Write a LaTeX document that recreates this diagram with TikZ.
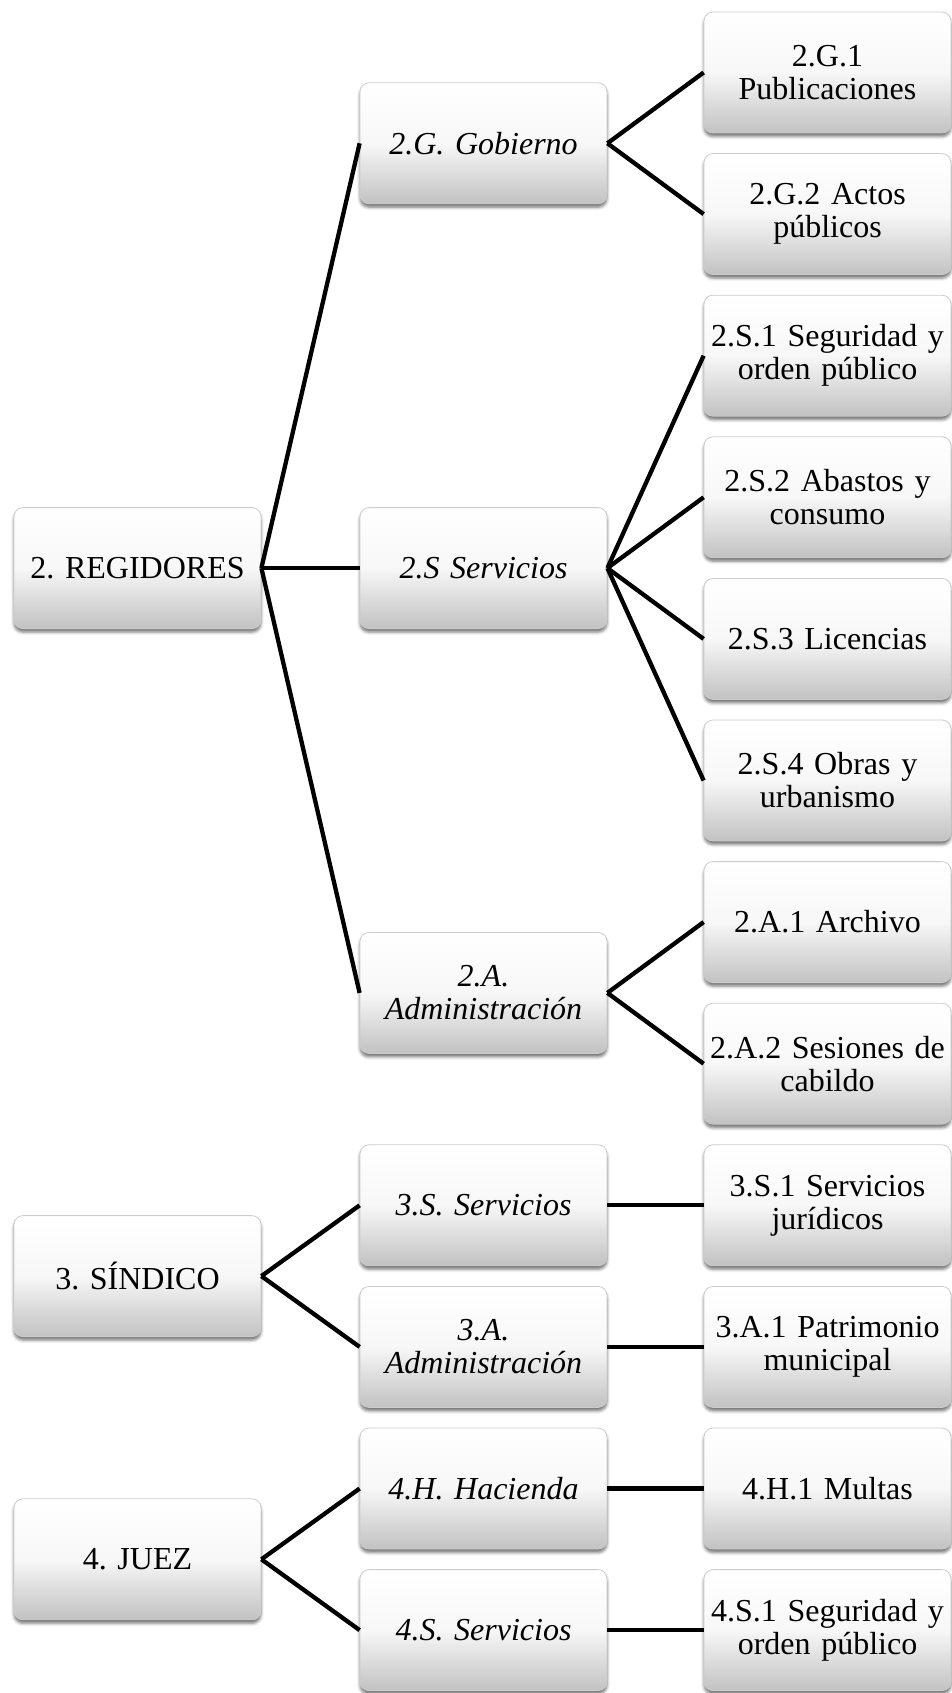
\documentclass[tikz,border=0pt]{standalone}
\usepackage{fontspec}
\setmainfont{Liberation Serif}
\usetikzlibrary{shadows.blur}
\begin{document}
\frenchspacing
\begin{tikzpicture}[x=1pt,y=-1pt,
  box/.style={rectangle, rounded corners=9pt, minimum width=247pt, minimum height=121pt,
    inner sep=0pt, align=center, text width=245pt,
    top color=white, bottom color=black!24, middle color=black!3,
    draw=black!20, line width=0.8pt,
    blur shadow={shadow xshift=0pt, shadow yshift=-3.5pt, shadow blur radius=3pt, shadow opacity=55},
    font=\fontsize{32}{33}\selectfont\frenchspacing},
  sub/.style={box, font=\fontsize{32}{33}\selectfont\frenchspacing\itshape},
  link/.style={line width=4.3pt, black}]
\useasboundingbox (0,0) rectangle (952,1693);

% first level
\node[box] (reg)  at (137.5,568.1)  {2. REGIDORES};
\node[box] (sin)  at (137.5,1276.1) {3. SÍNDICO};
\node[box] (juez) at (137.5,1559.3) {4. JUEZ};

% second level
\node[sub] (gob)  at (483.5,143.3)  {2.G. Gobierno};
\node[sub] (ser)  at (483.5,568.1)  {2.S Servicios};
\node[sub] (adm)  at (483.5,992.9)  {2.A.\\Administración};
\node[sub] (sser) at (483.5,1205.3) {3.S. Servicios};
\node[sub] (sadm) at (483.5,1346.9) {3.A.\\Administración};
\node[sub] (jhac) at (483.5,1488.5) {4.H. Hacienda};
\node[sub] (jser) at (483.5,1630.1) {4.S. Servicios};

% third level
\node[box] (g1)  at (827.5,72.5)   {2.G.1\\Publicaciones};
\node[box] (g2)  at (827.5,214.1)  {2.G.2 Actos\\públicos};
\node[box] (s1)  at (827.5,355.7)  {2.S.1 Seguridad y\\orden público};
\node[box] (s2)  at (827.5,497.3)  {2.S.2 Abastos y\\consumo};
\node[box] (s3)  at (827.5,638.9)  {2.S.3 Licencias};
\node[box] (s4)  at (827.5,780.5)  {2.S.4 Obras y\\urbanismo};
\node[box] (a1)  at (827.5,922.1)  {2.A.1 Archivo};
\node[box] (a2)  at (827.5,1063.7) {2.A.2 Sesiones de\\cabildo};
\node[box] (ss1) at (827.5,1205.3) {3.S.1 Servicios\\jurídicos};
\node[box] (sa1) at (827.5,1346.9) {3.A.1 Patrimonio\\municipal};
\node[box] (h1)  at (827.5,1488.5) {4.H.1 Multas};
\node[box] (js1) at (827.5,1630.1) {4.S.1 Seguridad y\\orden público};

% connectors
\foreach \c in {gob,ser,adm} \draw[link] (reg.east) -- (\c.west);
\foreach \c in {g1,g2} \draw[link] (gob.east) -- (\c.west);
\foreach \c in {s1,s2,s3,s4} \draw[link] (ser.east) -- (\c.west);
\foreach \c in {a1,a2} \draw[link] (adm.east) -- (\c.west);
\foreach \c in {sser,sadm} \draw[link] (sin.east) -- (\c.west);
\draw[link] (sser.east) -- (ss1.west);
\draw[link] (sadm.east) -- (sa1.west);
\foreach \c in {jhac,jser} \draw[link] (juez.east) -- (\c.west);
\draw[link] (jhac.east) -- (h1.west);
\draw[link] (jser.east) -- (js1.west);
\end{tikzpicture}
\end{document}
